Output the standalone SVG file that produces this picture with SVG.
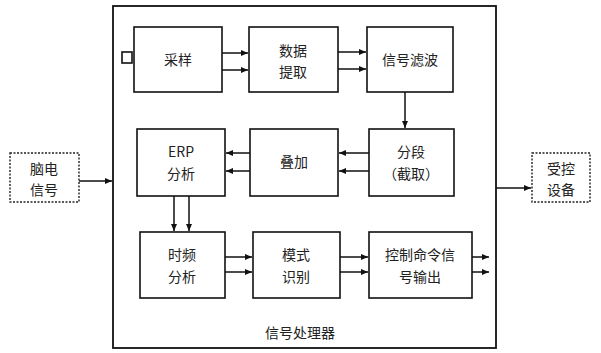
<svg xmlns="http://www.w3.org/2000/svg" width="601" height="353" viewBox="0 0 601 353">
<style>
.box{fill:#fff;stroke:#111;stroke-width:1.6}
.dbox{fill:#fff;stroke:#222;stroke-width:1.4;stroke-dasharray:2 1.5}
.outer{fill:none;stroke:#111;stroke-width:1.8}
.t{font-family:"Noto Sans CJK SC","Noto Sans CJK JP",sans-serif;font-size:14px;fill:#222;text-anchor:middle}
.c{stroke:#111;stroke-width:1.5;fill:none}
</style>
<defs>
<marker id="ah" markerWidth="8" markerHeight="8" refX="7" refY="4" orient="auto" markerUnits="userSpaceOnUse">
<path d="M0,1 L7,4 L0,7 Z" fill="#111"/>
</marker>
</defs>
<rect width="601" height="353" fill="#fff"/>
<g id="outer">
<rect class="outer" x="113" y="6" width="383" height="342"/>
<text class="t" x="300" y="338">信号处理器</text>
</g>
<g id="input">
<rect class="dbox" x="10" y="153" width="69" height="49"/>
<text class="t" x="44" y="174">脑电</text>
<text class="t" x="44" y="195">信号</text>
</g>
<g id="output">
<rect class="dbox" x="532" y="153" width="58" height="49"/>
<text class="t" x="561" y="174">受控</text>
<text class="t" x="561" y="195">设备</text>
</g>
<g id="sample">
<rect class="box" x="134" y="27" width="88" height="65"/>
<rect class="box" x="122" y="52" width="10" height="11"/>
<text class="t" x="178" y="65">采样</text>
</g>
<g id="extract">
<rect class="box" x="249" y="27" width="89" height="65"/>
<text class="t" x="293" y="56">数据</text>
<text class="t" x="293" y="77">提取</text>
</g>
<g id="filter">
<rect class="box" x="367" y="27" width="86" height="65"/>
<text class="t" x="410" y="65">信号滤波</text>
</g>
<g id="segment">
<rect class="box" x="369" y="129" width="85" height="67"/>
<text class="t" x="411" y="157">分段</text>
<text class="t" x="411" y="179">（截取）</text>
</g>
<g id="average">
<rect class="box" x="250" y="129" width="88" height="67"/>
<text class="t" x="294" y="167">叠加</text>
</g>
<g id="erp">
<rect class="box" x="137" y="129" width="88" height="67"/>
<text class="t" x="181" y="157">ERP</text>
<text class="t" x="181" y="179">分析</text>
</g>
<g id="tf">
<rect class="box" x="140" y="232" width="85" height="66"/>
<text class="t" x="182" y="260">时频</text>
<text class="t" x="182" y="282">分析</text>
</g>
<g id="recog">
<rect class="box" x="253" y="232" width="87" height="66"/>
<text class="t" x="296" y="260">模式</text>
<text class="t" x="296" y="282">识别</text>
</g>
<g id="cmd">
<rect class="box" x="369" y="232" width="103" height="66"/>
<text class="t" x="420" y="260">控制命令信</text>
<text class="t" x="420" y="282">号输出</text>
</g>
<g id="connectors">
<line class="c" x1="79" y1="181" x2="112" y2="181" marker-end="url(#ah)"/>
<line class="c" x1="496" y1="188" x2="531" y2="188" marker-end="url(#ah)"/>
<line class="c" x1="222" y1="53" x2="248" y2="53" marker-end="url(#ah)"/>
<line class="c" x1="222" y1="70" x2="248" y2="70" marker-end="url(#ah)"/>
<line class="c" x1="338" y1="52" x2="366" y2="52" marker-end="url(#ah)"/>
<line class="c" x1="338" y1="69" x2="366" y2="69" marker-end="url(#ah)"/>
<line class="c" x1="405" y1="92" x2="405" y2="128" marker-end="url(#ah)"/>
<line class="c" x1="369" y1="153" x2="339" y2="153" marker-end="url(#ah)"/>
<line class="c" x1="369" y1="171" x2="339" y2="171" marker-end="url(#ah)"/>
<line class="c" x1="250" y1="153" x2="226" y2="153" marker-end="url(#ah)"/>
<line class="c" x1="250" y1="171" x2="226" y2="171" marker-end="url(#ah)"/>
<line class="c" x1="174" y1="196" x2="174" y2="231" marker-end="url(#ah)"/>
<line class="c" x1="189" y1="196" x2="189" y2="231" marker-end="url(#ah)"/>
<line class="c" x1="225" y1="257" x2="252" y2="257" marker-end="url(#ah)"/>
<line class="c" x1="225" y1="272" x2="252" y2="272" marker-end="url(#ah)"/>
<line class="c" x1="340" y1="257" x2="368" y2="257" marker-end="url(#ah)"/>
<line class="c" x1="340" y1="272" x2="368" y2="272" marker-end="url(#ah)"/>
<line class="c" x1="472" y1="257" x2="489" y2="257" marker-end="url(#ah)"/>
<line class="c" x1="472" y1="272" x2="489" y2="272" marker-end="url(#ah)"/>
</g>
</svg>
